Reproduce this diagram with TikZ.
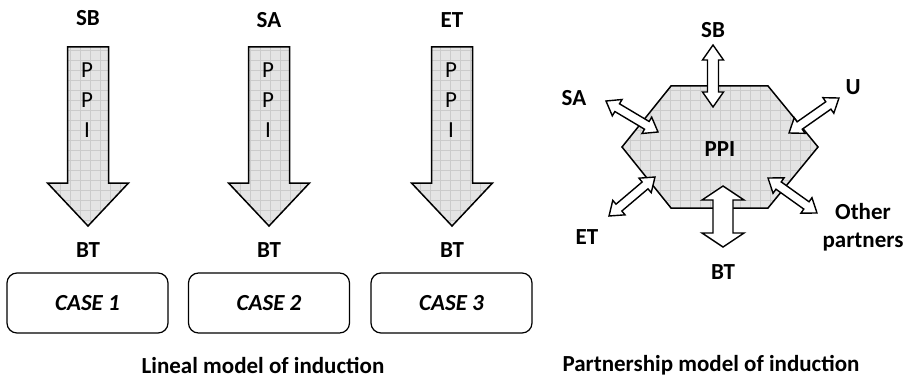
\documentclass[tikz,border=0pt]{standalone}
\usepackage{fontspec}
\setmainfont{Carlito}
\definecolor{fillgray}{HTML}{E4E4E4}
\definecolor{gridgray}{HTML}{CBCBCB}
\tikzset{
 pattfill/.style={draw=black, line width=1.5pt, line join=miter, fill=fillgray,
   path picture={\draw[gridgray, line width=0.5pt] (path picture bounding box.south west) grid[step=10pt] (path picture bounding box.north east);}},
 lbl/.style={font=\fontsize{23}{28}\selectfont\bfseries, inner sep=0pt},
 vtxt/.style={font=\fontsize{23}{30}\selectfont, inner sep=0pt, align=center},
 casebox/.style={draw, line width=1.2pt, rounded corners=10pt, minimum width=161pt, minimum height=60pt, font=\fontsize{23}{28}\selectfont\bfseries\itshape},
 dblstyle/.style={draw, fill=white, line width=1.4pt, line join=miter}
}
\newcommand\dblarrow[7]{%
 \pgfmathsetmacro\dAng{atan2(-(#4-#2),#3-#1)}%
 \pgfmathsetmacro\dLen{veclen(#3-#1,#4-#2)}%
 \pgfmathsetmacro\dB{\dLen-#7}%
 \begin{scope}[shift={(#1,#2)}, rotate=\dAng, x=1pt, y=1pt]
 \draw[dblstyle] (0,0) -- (#7,#6) -- (#7,#5) -- (\dB,#5) -- (\dB,#6) -- (\dLen,0) -- (\dB,-#6) -- (\dB,-#5) -- (#7,-#5) -- (#7,-#6) -- cycle;
 \end{scope}}
\newcommand\blockarrow[1]{%
 \draw[pattfill] (#1-20.5,47) -- (#1+20.5,47) -- (#1+20.5,183) -- (#1+40.5,183) -- (#1,226) -- (#1-40.5,183) -- (#1-20.5,183) -- cycle;}
\begin{document}
\begin{tikzpicture}[x=1pt,y=-1pt]
\useasboundingbox (0,0) rectangle (909,385);
% lineal model
\blockarrow{88}
\blockarrow{269}
\blockarrow{452}
\node[vtxt] (p1) at (87,100.5) {P\\P\\I};
\node[vtxt] (p2) at (268,100.5) {P\\P\\I};
\node[vtxt] (p3) at (451,100.5) {P\\P\\I};
\node[lbl] (sb1) at (88,18) {SB};
\node[lbl] (sa1) at (269,20) {SA};
\node[lbl] (et1) at (452,20) {ET};
\node[lbl] (bt1) at (88,250) {BT};
\node[lbl] (bt2) at (269,250) {BT};
\node[lbl] (bt3) at (452,250) {BT};
\node[casebox] (c1) at (87.5,303) {CASE 1};
\node[casebox] (c2) at (269,303) {CASE 2};
\node[casebox] (c3) at (451.5,303) {CASE 3};
\node[lbl] (cap1) at (263,365) {Lineal model of induction};
% partnership model
\draw[pattfill] (671,86) -- (768,86) -- (818,147) -- (768,208) -- (671,208) -- (622,147) -- cycle;
\node[lbl] (ppi) at (720,149) {PPI};
\dblarrow{713}{45}{713}{107}{5.5}{10.5}{15}
\dblarrow{723}{186}{723}{247}{10}{21}{14}
\dblarrow{606}{101}{658}{132}{4.5}{9.5}{13}
\dblarrow{789}{133}{839}{98}{4.5}{9.5}{13}
\dblarrow{609}{216}{655}{177}{4.5}{9.5}{13}
\dblarrow{768}{178}{817}{213}{4.5}{9.5}{13}
\node[lbl] (sb2) at (713,30) {SB};
\node[lbl] (bt4) at (723,272) {BT};
\node[lbl] (u) at (853,87) {U};
\node[lbl] (sa2) at (574,98) {SA};
\node[lbl] (et2) at (587,237) {ET};
\node[lbl, align=center, font=\fontsize{23}{28}\selectfont\bfseries] (op) at (863,227) {Other\\partners};
\node[lbl] (cap2) at (711,365) {Partnership model of induction};
\end{tikzpicture}
\end{document}
